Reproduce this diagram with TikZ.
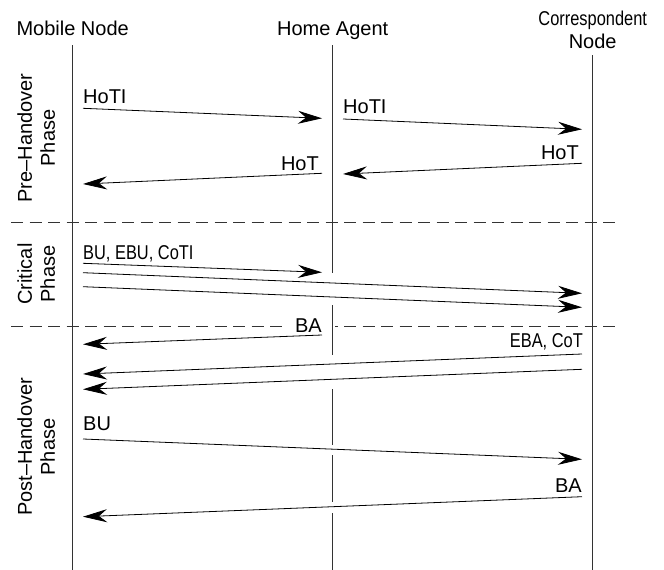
\documentclass[tikz,border=0pt]{standalone}
\usepackage{fontspec}
\setmainfont{Liberation Sans}
\newfontfamily\narrowfont[FakeStretch=0.82]{Liberation Sans}
\usetikzlibrary{arrows.meta, positioning}

\begin{document}
\begin{tikzpicture}[x=1pt, y=-1pt,
  >={Stealth[length=24pt, width=13pt, inset=8pt]},
  head/.style={font=\fontsize{20}{23}\selectfont, inner sep=0pt, anchor=base},
  phase/.style={font=\fontsize{20}{23}\selectfont, align=center, rotate=90, inner sep=0pt},
  lbl/.style={font=\fontsize{20}{23}\selectfont, inner sep=0pt},
  hide/.style={fill=white, inner xsep=13pt, inner ysep=1pt},
  msg/.style={->, line width=0.8pt},
  life/.style={line width=0.8pt, black!80},
  sep/.style={line width=0.8pt, black!80, dash pattern=on 12pt off 6.5pt}]
\useasboundingbox (0,0) rectangle (664,570);

\node[head] (mn)  at (72.7,35)   {Mobile Node};
\node[head] (ha)  at (332.7,35)  {Home Agent};
\node[head] (cnt) at (592.7,25)  {\narrowfont Correspondent};
\node[head] (cn)  at (592.7,48.3) {Node};

\node[phase] (pre)  at (36.3,138) {Pre--Handover\\Phase};
\node[phase] (crit) at (36.3,274) {Critical\\Phase};
\node[phase] (post) at (36.3,447) {Post--Handover\\Phase};

\coordinate (d1a) at (11,222);  \coordinate (d1b) at (617,222);
\coordinate (d2a) at (11,326);  \coordinate (d2b) at (617,326);
\draw[sep] (d1a) -- (d1b);
\draw[sep] (d2a) -- (d2b);

\node[lbl, anchor=base west] (l1) at (83,103)  {HoTI};
\node[lbl, anchor=base west] (l2) at (343,113) {HoTI};
\node[lbl, anchor=base east] (l3) at (579,159) {HoT};
\node[lbl, anchor=base east] (l4) at (319,170) {HoT};
\node[lbl, anchor=base west] (l5) at (83,259)  {\narrowfont BU, EBU, CoTI};
\node[lbl, hide, anchor=base east] (l6) at (335,332) {BA};
\node[lbl, hide, anchor=base east] (l7) at (596,347) {\narrowfont EBA, CoT};
\node[lbl, anchor=base west] (l8) at (83,430)  {BU};
\node[lbl, anchor=base east] (l9) at (582,492) {BA};

\coordinate (mntop) at (72.7,45);  \coordinate (mnbot) at (72.7,570);
\coordinate (cntop) at (592.7,55); \coordinate (cnbot) at (592.7,570);
\draw[life] (mntop) -- (mnbot);
\draw[life] (cntop) -- (cnbot);
\foreach \a/\b [count=\i] in {45/273, 305/355, 389/445, 455/502, 513/570} {
  \coordinate (ha\i a) at (332.7,\a);
  \coordinate (ha\i b) at (332.7,\b);
  \draw[life] (ha\i a) -- (ha\i b);
}

\foreach \xa/\ya/\xb/\yb [count=\i] in {
    83/108.3/322/118.3, 343/119/582/129.3, 582/163.3/343/174, 322/173.3/83/184,
    83/263.3/322/272.3, 83/272.7/582/293.3, 83/286.7/582/307.3,
    322/335/83/344.3, 582/354/83/374, 582/369.3/83/389.3,
    83/439/582/459.3, 582/496.7/83/516.7} {
  \coordinate (s\i) at (\xa,\ya);
  \coordinate (e\i) at (\xb,\yb);
  \draw[msg] (s\i) -- (e\i);
}
\end{tikzpicture}
\end{document}
